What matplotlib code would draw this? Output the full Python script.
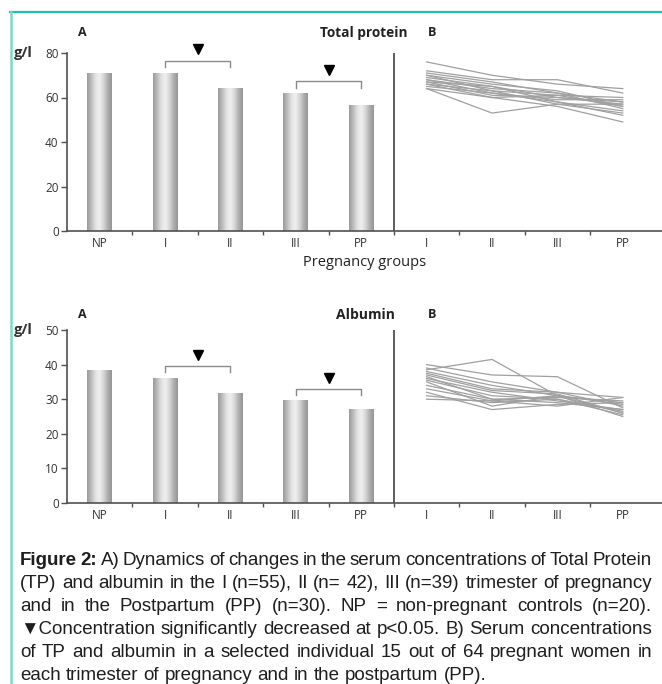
import numpy as np
import matplotlib
matplotlib.use("Agg")
import matplotlib.pyplot as plt
from matplotlib.lines import Line2D
from matplotlib.colors import LinearSegmentedColormap
from matplotlib import font_manager

# ---------------- data ----------------
groups_a = ["NP", "I", "II", "III", "PP"]
groups_b = ["I", "II", "III", "PP"]
tp_means = [71.0, 71.0, 64.0, 61.6, 56.6]
alb_means = [38.2, 36.1, 31.6, 29.5, 27.0]
sig_pairs = [(1, 2), (3, 4)]

tp_indiv = [
    [76, 70, 66, 64],
    [72, 68, 68, 62],
    [71, 67, 62, 58],
    [70, 66, 63, 56],
    [70, 63, 61, 60],
    [69, 65, 60, 57],
    [68, 64, 62, 55],
    [68, 62, 59, 59],
    [67, 65, 58, 54],
    [67, 61, 60, 58],
    [66, 63, 57, 53],
    [66, 60, 61, 56],
    [65, 62, 58, 52],
    [64, 53, 57, 57],
    [64, 60, 56, 49],
]
alb_indiv = [
    [38.5, 41.5, 31.0, 29.0],
    [40.0, 37.0, 36.5, 27.5],
    [39.0, 35.0, 32.0, 30.5],
    [38.0, 34.0, 31.0, 26.0],
    [37.5, 33.0, 32.0, 28.0],
    [37.0, 32.5, 31.5, 26.0],
    [36.5, 30.0, 30.5, 29.5],
    [36.0, 32.0, 29.5, 27.0],
    [35.5, 31.0, 30.0, 25.5],
    [35.0, 28.0, 31.0, 28.5],
    [34.0, 30.0, 29.0, 27.0],
    [33.0, 29.5, 31.0, 25.0],
    [32.0, 27.0, 28.5, 29.0],
    [31.0, 29.0, 30.0, 26.5],
    [30.0, 29.5, 28.0, 30.5],
]

caption_lines = [
    [("Figure", "bold"), ("2:", "bold"), "A)", "Dynamics", "of", "changes", "in", "the", "serum",
     "concentrations", "of", "Total", "Protein"],
    "(TP) and albumin in the I (n=55), II (n= 42), III (n=39) trimester of pregnancy",
    "and in the Postpartum (PP) (n=30). NP = non-pregnant controls (n=20).",
    "\u25BCConcentration significantly decreased at p<0.05. B) Serum concentrations",
    "of TP and albumin in a selected individual 15 out of 64 pregnant women in",
    "each trimester of pregnancy and in the postpartum (PP).",
]

# ---------------- figure ----------------
W, H = 662, 684
fig = plt.figure(figsize=(W / 100, H / 100), dpi=100)
fig.patch.set_facecolor("white")

installed = {f.name for f in font_manager.fontManager.ttflist}
cap_font = "Liberation Sans Narrow" if "Liberation Sans Narrow" in installed else "Liberation Sans"
panel_font = "Open Sans"


def px_axes(left, top, right, bottom):
    return fig.add_axes([left / W, 1 - bottom / H, (right - left) / W, (bottom - top) / H])


bar_cmap = LinearSegmentedColormap.from_list(
    "cyl", ["#9a9a9a", "#bdbdbd", "#e2e2e2", "#f0f0f0", "#d6d6d6", "#b0b0b0", "#959595"])
grad = np.linspace(0, 1, 64).reshape(1, -1)

axis_col = "#505050"


def panel(ax, means, indiv, ymax, step):
    xa = np.arange(len(groups_a))
    bars = ax.bar(xa, means, width=0.38, color="none", edgecolor="none")
    for b in bars:
        ax.imshow(grad, extent=[b.get_x(), b.get_x() + b.get_width(), 0, b.get_height()],
                  aspect="auto", cmap=bar_cmap, zorder=2, interpolation="bicubic")
    xb = np.arange(len(groups_b)) + len(groups_a)
    for row in indiv:
        ax.plot(xb, row, color="#a0a0a0", lw=0.9, zorder=3)
    ax.axvline(len(groups_a) - 0.5, color=axis_col, lw=1.3, zorder=4)
    for s in ["top", "right"]:
        ax.spines[s].set_visible(False)
    for s in ["left", "bottom"]:
        ax.spines[s].set_color(axis_col)
        ax.spines[s].set_linewidth(1.2)
    ax.set_yticks(np.arange(0, ymax + 0.1, step))
    ax.set_yticklabels([f"{v:g}" for v in np.arange(0, ymax + 0.1, step)],
                       fontfamily=panel_font, fontsize=8.5, color="#333333")
    ax.tick_params(axis="y", length=4, width=1, color=axis_col, pad=2)
    ax.set_xticks(np.arange(0.5, 8.5, 1.0))
    ax.set_xticklabels([])
    ax.tick_params(axis="x", which="major", length=3, width=1, color=axis_col)
    ax.set_xticks(np.arange(9), minor=True)
    ax.set_xticklabels(groups_a + groups_b, minor=True, fontfamily=panel_font,
                       fontsize=8.5, color="#333333")
    ax.tick_params(axis="x", which="minor", length=0, pad=4)
    ax.set_xlim(-0.5, 8.6)
    ax.set_ylim(0, ymax)
    off = 0.07 * ymax
    for i, j in sig_pairs:
        top = max(means[i], means[j]) + off
        ax.plot([i, i, j, j], [top - off / 2, top, top, top - off / 2],
                color="#8a8a8a", lw=1.0, zorder=3, clip_on=False)
        ax.plot((i + j) / 2, top + off * 0.9, marker="v", color="black",
                ms=7, zorder=5, clip_on=False)


ax1 = px_axes(67, 53, 662, 231)
panel(ax1, tp_means, tp_indiv, 80, 20)
ax2 = px_axes(67, 330, 662, 503)
panel(ax2, alb_means, alb_indiv, 50, 10)


def ftext(x, y, s, **kw):
    fig.text(x / W, 1 - y / H, s, **kw)


lab = dict(fontfamily=panel_font, color="#222222", va="center")
ftext(14, 53, "g/l", fontsize=10.5, fontweight="bold", ha="left", color="#333333",
      fontfamily=panel_font, va="center")
ftext(14, 330, "g/l", fontsize=10.5, fontweight="bold", ha="left", color="#333333",
      fontfamily=panel_font, va="center")
ftext(78, 33, "A", fontsize=9, fontweight="bold", ha="left", **lab)
ftext(78, 315, "A", fontsize=9, fontweight="bold", ha="left", **lab)
ftext(428, 33, "B", fontsize=9, fontweight="bold", ha="left", **lab)
ftext(428, 315, "B", fontsize=9, fontweight="bold", ha="left", **lab)
ftext(408, 33, "Total protein", fontsize=9.8, fontweight="bold", ha="right", **lab)
ftext(395, 315, "Albumin", fontsize=10, fontweight="bold", ha="right", **lab)
ftext(365, 262, "Pregnancy groups", fontsize=10.5, ha="center", **lab)

# frame lines
fig.add_artist(Line2D([10 / W, 1], [1 - 12 / H, 1 - 12 / H], color="#22c2a8", lw=1.6,
                      transform=fig.transFigure))
fig.add_artist(Line2D([11 / W, 11 / W], [1 - 12 / H, 0], color="#80d8c8", lw=1.8,
                      transform=fig.transFigure))

# caption, justified
renderer = fig.canvas.get_renderer()
fam = [cap_font, "DejaVu Sans"]


def tokens(line):
    if isinstance(line, str):
        return [(w, "normal") for w in line.split(" ")]
    return [t if isinstance(t, tuple) else (t, "normal") for t in line]


def measure(word, weight, fs):
    t = fig.text(0, 0, word, fontsize=fs, fontweight=weight, fontfamily=fam)
    w = t.get_window_extent(renderer).width
    t.remove()
    return w


x0, x1 = 20, 652
fs = 14.0 if cap_font.endswith("Narrow") else 13.5
while True:
    ok = True
    sp = measure("a a", "normal", fs) - measure("aa", "normal", fs)
    for line in caption_lines[:-1]:
        toks = tokens(line)
        total = sum(measure(w, wt, fs) for w, wt in toks) + sp * 0.35 * (len(toks) - 1)
        if total > x1 - x0:
            ok = False
            break
    if ok:
        break
    fs -= 0.25

y = 565
for k, line in enumerate(caption_lines):
    toks = tokens(line)
    widths = [measure(w, wt, fs) for w, wt in toks]
    last = k == len(caption_lines) - 1
    gap = sp if last else (x1 - x0 - sum(widths)) / (len(toks) - 1)
    x = x0
    for (w, wt), wd in zip(toks, widths):
        ftext(x, y, w, fontsize=fs, fontweight=wt, fontfamily=fam, color="#1e1e1e",
              ha="left", va="baseline")
        x += wd + gap
    y += 23

fig.savefig("out.png", dpi=100, facecolor="white")
